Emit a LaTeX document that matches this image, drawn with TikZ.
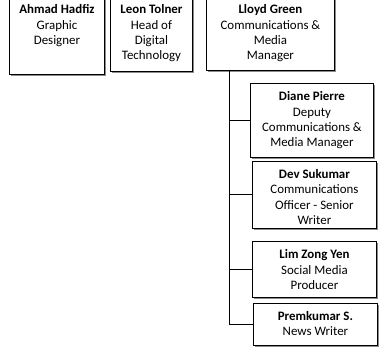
\documentclass[tikz,border=0pt]{standalone}
\usepackage{fontspec}
\setmainfont{Carlito}
\usetikzlibrary{shadows}
\begin{document}
\begin{tikzpicture}[x=1bp,y=-1bp,
  box/.style={draw=black, line width=0.9bp, fill=white, inner sep=0pt, anchor=north west,
    drop shadow={shadow xshift=1.2bp, shadow yshift=-1.2bp, fill=black!45, opacity=1}},
  txt/.style={anchor=north, inner sep=0pt, align=center, font=\fontsize{12.9bp}{15.4bp}\selectfont},
  link/.style={draw=black, line width=1bp}]
\useasboundingbox (0,0) rectangle (387,355);
\begin{scope}
\clip (0,0) rectangle (387,355);
% boxes
\node[box, minimum width=95bp, minimum height=79bp] (ahmad) at (9,-5) {};
\node[box, minimum width=82bp, minimum height=76bp] (leon) at (110,-5) {};
\node[box, minimum width=128bp, minimum height=75bp] (lloyd) at (206,-5) {};
\node[box, minimum width=123bp, minimum height=74bp] (diane) at (250,83) {};
\node[box, minimum width=124bp, minimum height=67bp] (dev) at (252,161) {};
\node[box, minimum width=124bp, minimum height=56bp] (lim) at (252,241) {};
\node[box, minimum width=124bp, minimum height=42bp] (prem) at (253,303) {};
% texts
\node[txt] (tahmad) at ([yshift=-9.5bp]ahmad.north) {\textbf{Ahmad Hadfiz}\\Graphic\\Designer};
\node[txt] (tleon) at ([yshift=-9.5bp]leon.north) {\textbf{Leon Tolner}\\Head of\\Digital\\Technology};
\node[txt] (tlloyd) at ([yshift=-9.5bp]lloyd.north) {\textbf{Lloyd Green}\\Communications \&\\Media\\Manager};
\node[txt] (tdiane) at ([yshift=-8.5bp]diane.north) {\textbf{Diane Pierre}\\Deputy\\Communications \&\\Media Manager};
\node[txt] (tdev) at ([yshift=-8bp]dev.north) {\textbf{Dev Sukumar}\\Communications\\Officer - Senior\\Writer};
\node[txt] (tlim) at ([yshift=-8.5bp]lim.north) {\textbf{Lim Zong Yen}\\Social Media\\Producer};
\node[txt] (tprem) at ([yshift=-8bp]prem.north) {\textbf{Premkumar S.}\\News Writer};
% connectors
\coordinate (trunk) at ([xshift=23bp]lloyd.south west);
\draw[link] (trunk) |- (prem.west);
\draw[link] (trunk |- diane.west) -- (diane.west);
\draw[link] (trunk |- dev.west) -- (dev.west);
\draw[link] (trunk |- lim.west) -- (lim.west);
\end{scope}
\end{tikzpicture}
\end{document}
